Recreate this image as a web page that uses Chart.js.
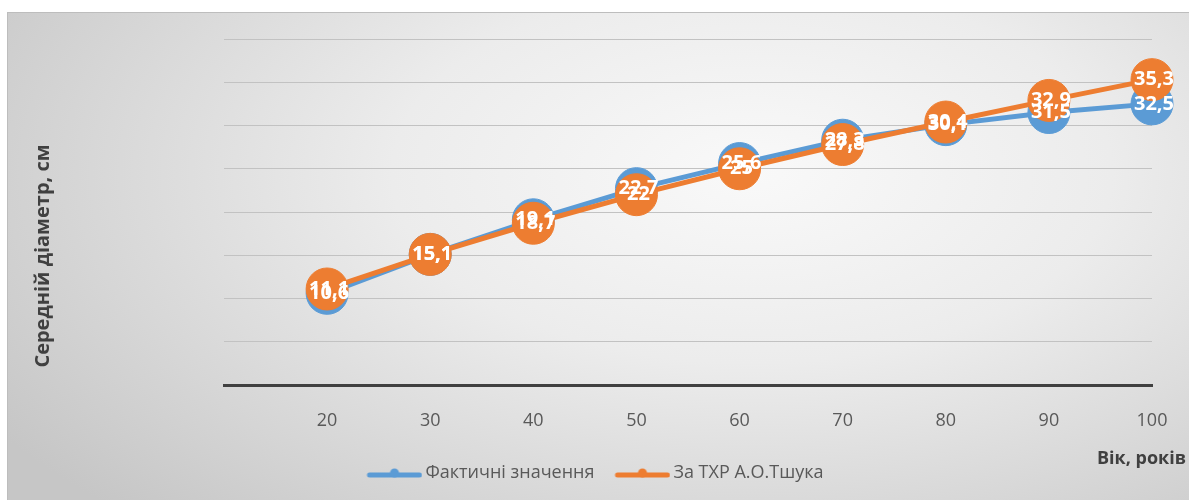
<!DOCTYPE html>
<html>
<head>
<meta charset="utf-8">
<script src="https://cdn.jsdelivr.net/npm/chart.js@4.4.0/dist/chart.umd.min.js"></script>
<style>
  html, body { margin: 0; padding: 0; background: #fff; }
  #wrap { position: relative; width: 1189px; height: 500px; overflow: hidden; }
  #bg {
    position: absolute; left: 7px; top: 12px; width: 1200px; height: 500px;
    border-top: 1px solid #bdbdbd; border-left: 1px solid #bdbdbd;
    background: radial-gradient(ellipse 75% 95% at 62% 32%, #f9f9f9 0%, #ececec 40%, #d6d6d6 75%, #c6c6c6 100%);
  }
  canvas { position: absolute; left: 0; top: 0; }
</style>
</head>
<body>
<div id="wrap">
  <div id="bg"></div>
  <canvas id="myChart" width="1189" height="500"></canvas>
</div>
<script>
// age, years
const ages = [20, 30, 40, 50, 60, 70, 80, 90, 100];
// mean diameter, cm
const actual = [10.6, 15.1, 19.1, 22.7, 25.6, 28.3, 30.1, 31.5, 32.5];
const tshuk = [11.1, 15.1, 18.7, 22, 25, 27.8, 30.4, 32.9, 35.3];
const yRange = [0, 40];
const yStep = 5;

const FONT = '"Open Sans", "DejaVu Sans", sans-serif';
const BLUE = '#5b9bd5';
const ORANGE = '#ed7d31';

const fmt = v => String(v).replace('.', ',');

// excel-like legend key: thick line with a dot in the middle
function legendMarker(color) {
    const c = document.createElement('canvas');
    c.width = 72;
    c.height = 12;
    const g = c.getContext('2d');
    g.strokeStyle = color;
    g.lineWidth = 5;
    g.lineCap = 'round';
    g.beginPath();
    g.moveTo(19, 8);
    g.lineTo(69, 8);
    g.stroke();
    g.fillStyle = color;
    g.beginPath();
    g.arc(44, 6, 4.5, 0, Math.PI * 2);
    g.fill();
    return c;
}
const markers = [legendMarker(BLUE), legendMarker(ORANGE)];

// white value labels centred on the points
const pointLabels = {
    id: 'pointLabels',
    afterDatasetsDraw(chart) {
        const ctx = chart.ctx;
        ctx.save();
        ctx.font = 'bold 20px ' + FONT;
        ctx.fillStyle = '#ffffff';
        ctx.textAlign = 'center';
        ctx.textBaseline = 'middle';
        chart.data.datasets.forEach((ds, i) => {
            chart.getDatasetMeta(i).data.forEach((pt, j) => {
                ctx.fillText(fmt(ds.data[j].y), pt.x + 2, pt.y);
            });
        });
        ctx.restore();
    }
};

// axis titles: y title centred on the whole frame, x title at the bottom right
const axisTitles = {
    id: 'axisTitles',
    afterDraw(chart) {
        const ctx = chart.ctx;
        ctx.save();
        ctx.fillStyle = '#404040';
        ctx.textBaseline = 'middle';
        ctx.font = 'bold 18px ' + FONT;
        ctx.textAlign = 'right';
        ctx.fillText('Вік, років', chart.width - 3, chart.chartArea.bottom + 74);
        ctx.translate(43, 256);
        ctx.rotate(-Math.PI / 2);
        ctx.font = 'bold 20px ' + FONT;
        ctx.textAlign = 'center';
        ctx.fillText('Середній діаметр, см', 0, 0);
        ctx.restore();
    }
};

const config = {
    type: 'line',
    data: {
        datasets: [
            {
                label: 'Фактичні значення',
                data: ages.map((a, i) => ({x: a, y: actual[i]})),
                borderColor: BLUE,
                backgroundColor: BLUE,
                borderWidth: 5,
                pointRadius: 21,
                pointBorderWidth: 1,
                pointHoverRadius: 21,
                clip: false,
                order: 1
            },
            {
                label: 'За ТХР А.О.Тшука',
                data: ages.map((a, i) => ({x: a, y: tshuk[i]})),
                borderColor: ORANGE,
                backgroundColor: ORANGE,
                borderWidth: 5,
                pointRadius: 21,
                pointBorderWidth: 1,
                pointHoverRadius: 21,
                clip: false,
                order: 0
            }
        ]
    },
    options: {
        responsive: false,
        animation: false,
        layout: {
            padding: {left: 28, right: 37, top: 39, bottom: 8}
        },
        scales: {
            x: {
                type: 'linear',
                min: 10,
                max: 100,
                ticks: {
                    stepSize: 10,
                    padding: 17,
                    color: '#595959',
                    font: {family: FONT, size: 18},
                    callback: v => (v < 20 ? '' : v)
                },
                grid: {display: false},
                border: {color: '#404040', width: 3},
                afterFit(scale) {
                    scale.height = 69;
                }
            },
            y: {
                min: yRange[0],
                max: yRange[1],
                ticks: {display: false, stepSize: yStep},
                grid: {color: '#c2c2c2', lineWidth: 1, drawTicks: false},
                border: {display: false},
                afterFit(scale) {
                    scale.width = 224 - 28;
                }
            }
        },
        plugins: {
            tooltip: {enabled: false},
            legend: {
                position: 'bottom',
                labels: {
                    usePointStyle: true,
                    pointStyleWidth: 60,
                    padding: 10,
                    color: '#595959',
                    font: {family: FONT, size: 18},
                    generateLabels(chart) {
                        const items = Chart.defaults.plugins.legend.labels.generateLabels(chart);
                        items.sort((a, b) => a.datasetIndex - b.datasetIndex);
                        items.forEach(it => { it.pointStyle = markers[it.datasetIndex]; });
                        return items;
                    }
                }
            }
        }
    },
    plugins: [pointLabels, axisTitles]
};

new Chart(document.getElementById('myChart'), config);
</script>
</body>
</html>
